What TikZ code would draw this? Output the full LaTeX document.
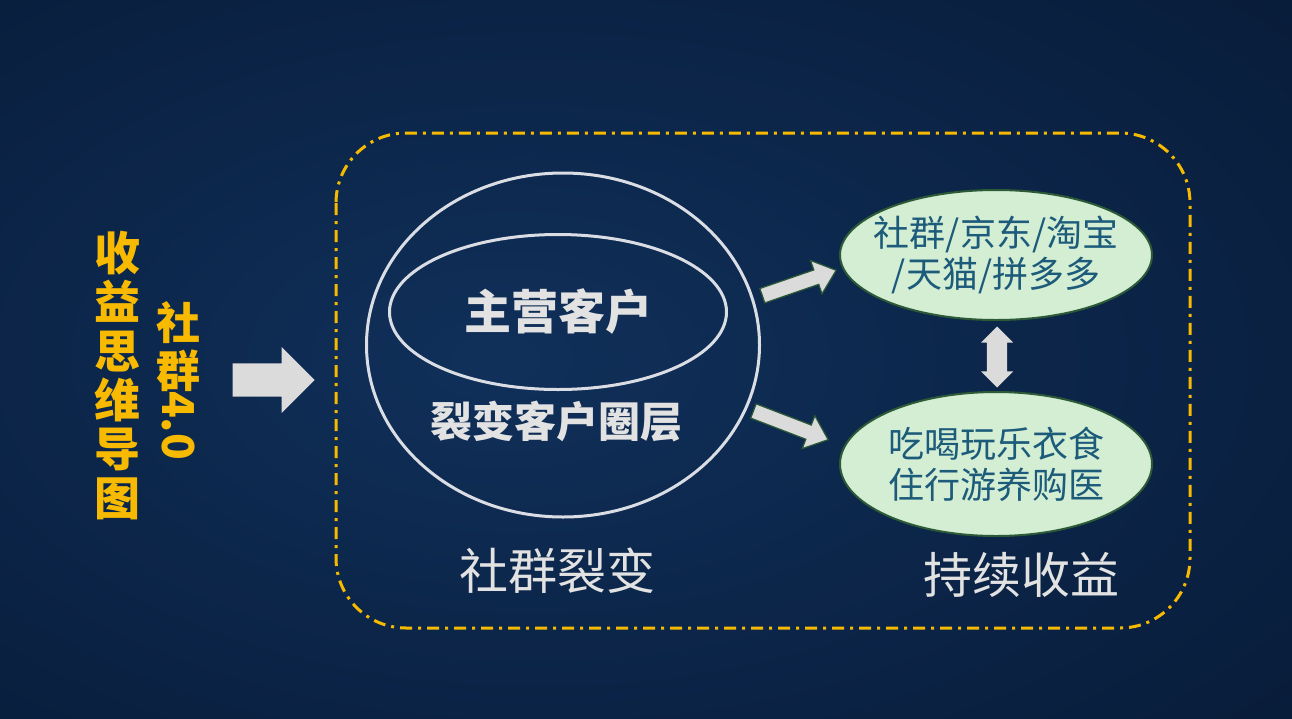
\documentclass[tikz,border=0pt]{standalone}
\usepackage{fontspec}
\usepackage{graphicx}
\newfontfamily\cjk{Noto Sans CJK SC}
\usetikzlibrary{shapes.geometric,shapes.arrows}
\definecolor{bgA}{HTML}{10305A}
\definecolor{bgB}{HTML}{0A2142}
\definecolor{bgC}{HTML}{020D1C}
\definecolor{goldc}{HTML}{F7BA00}
\definecolor{linec}{HTML}{DADDE4}
\definecolor{textw}{HTML}{E2E2E2}
\definecolor{greenfill}{HTML}{D4EED4}
\definecolor{greenline}{HTML}{2C5A36}
\definecolor{tealtext}{HTML}{1D5B7A}
\definecolor{arrowfill}{HTML}{DBDBDB}
\pgfdeclareradialshading{bgshade}{\pgfpoint{-6bp}{0bp}}{color(0bp)=(bgA); color(28bp)=(bgB); color(72bp)=(bgC)}
\tikzset{
  whiteell/.style={ellipse, draw=linec, line width=3pt, inner sep=0pt},
  greenell/.style={ellipse, draw=greenline, line width=2pt, fill=greenfill, inner sep=0pt},
  greentxt/.style={text=tealtext, align=center, inner sep=0pt, font=\cjk\fontsize{36}{41}\selectfont},
  blockarrow/.style={single arrow, fill=arrowfill, inner xsep=0pt, single arrow head indent=0pt},
  goldtxt/.style={text=goldc, align=center, inner sep=0pt, font=\cjk\bfseries\fontsize{46}{49}\selectfont},
  bigtxt/.style={text=textw, inner sep=0pt, font=\cjk\fontsize{49}{52}\selectfont},
}
\begin{document}
\begin{tikzpicture}[x=1pt,y=-1pt]
\useasboundingbox (0,0) rectangle (1292,718);
\shade[shading=bgshade] (0,0) rectangle (1292,718);
% dashed frame
\draw[goldc, line width=3pt, rounded corners=70pt, dash pattern=on 12pt off 6pt on 3pt off 6pt]
  (336,133) rectangle (1190,628);
% left titles
\node[goldtxt] (title) at (117,376) {收\\益\\思\\维\\导\\图};
\node[goldtxt, font=\cjk\bfseries\fontsize{44}{48}\selectfont] (sub) at (178,381) {社\\群\\[-2pt]\rotatebox[origin=c]{-90}{4.0}};
% big arrow
\node[blockarrow, minimum height=82pt, inner ysep=16.5pt, single arrow head extend=16.5pt, single arrow tip angle=90, anchor=tip] (bigarrow) at (315,380) {};
% circles
\node[whiteell, minimum width=393pt, minimum height=344pt] (outer) at (563,345) {};
\node[whiteell, minimum width=337pt, minimum height=155pt] (inner) at (558,312) {};
\node[text=textw, inner sep=0pt, font=\cjk\bfseries\fontsize{47}{50}\selectfont] (main) at (inner.center) {主营客户};
\node[text=textw, inner sep=0pt, font=\cjk\bfseries\fontsize{42}{46}\selectfont] (ring) at (556,421) {裂变客户圈层};
\node[bigtxt] (fission) at (557,571) {社群裂变};
\node[bigtxt] (income) at (1021,575) {持续收益};
% green ellipses
\node[greenell, minimum width=312pt, minimum height=130pt] (shops) at (996,255) {};
\node[greentxt] (shopstxt) at (shops.center) {社群/京东/淘宝\\/天猫/拼多多};
\node[greenell, minimum width=312pt, minimum height=144pt] (life) at (996,464) {};
\node[greentxt] (lifetxt) at (life.center) {吃喝玩乐衣食\\住行游养购医};
% arrows to ellipses
\node[blockarrow, draw=greenline, line width=1.2pt, minimum height=78pt, inner ysep=7pt, single arrow head extend=10pt, single arrow tip angle=80, rotate=19, anchor=tip] (arrowtop) at (837,270) {};
\node[blockarrow, draw=greenline, line width=1.2pt, minimum height=80pt, inner ysep=7pt, single arrow head extend=10pt, single arrow tip angle=80, rotate=-21, anchor=tip] (arrowbot) at (829,440) {};
% double arrow
\node[double arrow, fill=arrowfill, inner xsep=0pt, inner ysep=10pt, double arrow head extend=6pt, double arrow tip angle=90, double arrow head indent=0pt, minimum height=61pt, rotate=90] (dbl) at (997,357) {};
\end{tikzpicture}
\end{document}
